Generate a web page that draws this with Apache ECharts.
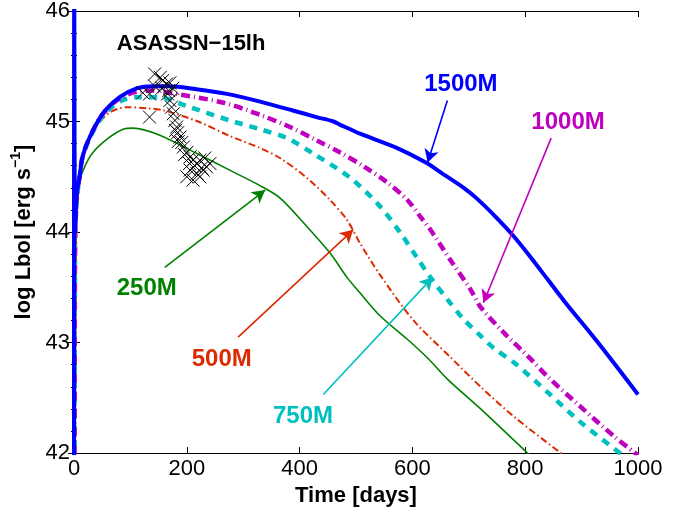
<!DOCTYPE html>
<html>
<head>
<meta charset="utf-8">
<script src="https://cdn.jsdelivr.net/npm/echarts@6/dist/echarts.min.js"></script>
<style>
html,body{margin:0;padding:0;background:#fff;}
#chart{width:691px;height:512px;}
</style>
</head>
<body>
<div id="chart"></div>
<script>
// ---- data (time [days], log Lbol) ----
const curve1500 = [[0,41],[0.3,47],[2,44.0],[5,44.35],[10,44.5],[15,44.68],[28,44.86],[51,45.07],[81,45.22],[111,45.30],[140,45.32],[170,45.32],[220,45.29],[271,45.25],[330,45.18],[388,45.10],[430,45.04],[460,45.0],[472,44.97],[490,44.93],[507,44.89],[573,44.76],[627,44.62],[650,44.54],[691,44.40],[715,44.30],[751,44.12],[780,43.96],[810,43.77],[840,43.57],[870,43.37],[929,43.0],[1000,42.53]];
const curve1000 = [[1,41.5],[2,44.0],[5,44.35],[10,44.5],[15,44.68],[28,44.86],[51,45.07],[81,45.21],[111,45.27],[140,45.28],[170,45.26],[265,45.17],[330,45.06],[383,44.95],[430,44.83],[472,44.72],[515,44.59],[555,44.45],[591,44.29],[614,44.14],[632,44.02],[667,43.75],[703,43.48],[721,43.32],[762,43.09],[810,42.85],[840,42.69],[898,42.42],[958,42.15],[1000,41.98]];
const curve750 = [[1,41.5],[2,44.0],[5,44.3],[10,44.5],[15,44.67],[28,44.85],[51,45.05],[81,45.18],[111,45.22],[150,45.22],[200,45.14],[276,45.01],[330,44.93],[378,44.85],[424,44.71],[490,44.49],[543,44.23],[579,43.99],[608,43.77],[632,43.59],[662,43.39],[691,43.21],[721,43.06],[744,42.95],[780,42.82],[840,42.55],[898,42.28],[958,42.04],[975,41.97]];
const curve500 = [[1,41.5],[3,43.8],[6,44.2],[10,44.45],[20,44.75],[40,44.96],[63,45.08],[93,45.13],[130,45.12],[160,45.10],[220,45.0],[276,44.87],[330,44.76],[365,44.67],[413,44.49],[454,44.29],[484,44.11],[507,43.90],[543,43.61],[602,43.2],[667,42.87],[721,42.60],[780,42.33],[858,42.02],[870,41.97]];
const curve250 = [[2,41.5],[4,44.1],[7,44.35],[10,44.47],[28,44.68],[51,44.81],[87,44.93],[105,44.94],[150,44.88],[218,44.71],[276,44.56],[330,44.42],[365,44.31],[413,44.05],[454,43.81],[484,43.59],[507,43.45],[543,43.24],[591,43.03],[627,42.86],[662,42.67],[721,42.40],[804,42.0],[820,41.92]];
const observed = [[143,45.43],[153,45.40],[134,45.04],[122,45.26],[134,45.25],[143,45.32],[157,45.37],[164,45.34],[170,45.35],[156,45.30],[166,45.25],[170,45.19],[173,45.13],[176,45.07],[179,45.01],[182,44.95],[184,44.90],[188,44.86],[191,44.81],[194,44.77],[200,44.72],[206,44.68],[211,44.65],[218,44.62],[223,44.65],[232,44.67],[206,44.56],[218,44.53],[229,44.56],[200,44.50],[211,44.47],[223,44.50],[235,44.59],[241,44.62],[175,45.30],[168,45.28],[180,44.92],[185,44.82],[196,44.70],[214,44.60],[226,44.58],[205,44.62]];
const xTicks = [0,200,400,600,800,1000];
const yTicks = [42,43,44,45,46];
const title = 'ASASSN\u221215lh';

// annotations: label, label position, arrow from -> to (data coords)
const annotations = [
  {name:'1500M', color:'#0000ff', at:[686,45.34], from:[662,45.19], to:[627,44.63]},
  {name:'1000M', color:'#bf00bf', at:[876,44.99], from:[846,44.85], to:[726,43.36]},
  {name:'750M',  color:'#00bfbf', at:[406,42.33], from:[442,42.53], to:[636,43.59]},
  {name:'500M',  color:'#dd2a00', at:[262,42.85], from:[291,43.05], to:[495,44.02]},
  {name:'250M',  color:'#008000', at:[129,43.49], from:[161,43.68], to:[339,44.38]}
];

const FONT = 'Liberation Sans, Arial, Helvetica, sans-serif';
const chart = echarts.init(document.getElementById('chart'), null, {renderer:'canvas'});

function arrowLine(a){
  return {
    silent:true, animation:false,
    symbol:['none','arrow'], symbolSize:[11,13],
    label:{show:false},
    lineStyle:{color:a.color, width:1.6, type:'solid', opacity:1},
    itemStyle:{color:a.color, opacity:1},
    data:[[{coord:a.from},{coord:a.to}]]
  };
}
function findAnn(n){ return annotations.find(a=>a.name===n); }

const curveSeries = [
  {name:'250M', data:curve250, color:'#008000', width:1.6, type:'solid'},
  {name:'500M', data:curve500, color:'#dd2a00', width:2, type:[7,3,1.5,3]},
  {name:'750M', data:curve750, color:'#00bfbf', width:4.5, type:[8,7]},
  {name:'1000M', data:curve1000, color:'#bf00bf', width:4.5, type:[9,4,1,4]},
  {name:'1500M', data:curve1500, color:'#0000ff', width:4, type:'solid'}
].map(s=>({
  type:'line', name:s.name, data:s.data, showSymbol:false, symbol:'none',
  smooth:0.3,
  clip:true, animation:false, silent:true,
  lineStyle:{color:s.color, width:s.width, type:s.type, cap:'butt', join:'round'},
  markLine: arrowLine(findAnn(s.name))
}));

const labelSeries = {
  type:'scatter', symbolSize:0, silent:true, animation:false, z:10,
  itemStyle:{opacity:1},
  data: annotations.map(a=>({name:a.name, value:a.at,
    label:{show:true, position:'inside', formatter:a.name, color:a.color, opacity:1,
      fontSize:24, fontWeight:'bold', fontFamily:FONT}}))
    .concat([{name:title, value:[76,45.70],
      label:{show:true, position:'right', distance:0, formatter:title, color:'#000', opacity:1,
        fontSize:22, fontWeight:'bold', fontFamily:FONT}}])
};

const obsSeries = {
  type:'scatter', data:observed, silent:true, animation:false, z:5,
  symbol:'path://M0,0L10,10M10,0L0,10', symbolSize:13,
  itemStyle:{color:'rgba(0,0,0,0)', borderColor:'#000', borderWidth:1, opacity:1}
};

const axisCommon = {
  axisLine:{show:true, lineStyle:{color:'#000', width:1}},
  axisTick:{show:true, inside:true, length:6, lineStyle:{color:'#000', width:1}},
  splitLine:{show:false}
};

const option = {
  backgroundColor:'#fff',
  animation:false,
  grid:{left:74, right:53, top:10, bottom:58, containLabel:false},
  xAxis:[
    Object.assign({type:'value', position:'bottom', min:0, max:1000, interval:200,
      name:'Time [days]', nameLocation:'middle', nameGap:31,
      nameTextStyle:{fontSize:22, fontWeight:'bold', color:'#000', fontFamily:FONT},
      axisLabel:{show:true, fontSize:22, color:'#000', margin:5, fontFamily:FONT,
        formatter:v=> xTicks.includes(v) ? String(v) : ''}}, axisCommon),
    Object.assign({type:'value', position:'top', min:0, max:1000, interval:200,
      axisLabel:{show:false}}, axisCommon)
  ],
  yAxis:[
    Object.assign({type:'value', position:'left', min:42, max:46, interval:1,
      name:'{b|log Lbol [erg s}{s|\u22121}{b|]}', nameLocation:'middle', nameGap:36, nameRotate:90,
      nameTextStyle:{color:'#000', fontFamily:FONT,
        rich:{b:{fontSize:22, fontWeight:'bold', color:'#000', fontFamily:FONT, lineHeight:28, verticalAlign:'middle'},
              s:{fontSize:14, fontWeight:'bold', color:'#000', fontFamily:FONT, lineHeight:28, verticalAlign:'top'}}},
      axisLabel:{show:true, fontSize:22, color:'#000', margin:4, fontFamily:FONT,
        formatter:v=> yTicks.includes(v) ? String(v) : ''},
      minorTick:{show:true, splitNumber:5, length:3, lineStyle:{color:'#000', width:1}}}, axisCommon),
    Object.assign({type:'value', position:'right', min:42, max:46, interval:1,
      axisLabel:{show:false},
      minorTick:{show:true, splitNumber:5, length:3, lineStyle:{color:'#000', width:1}}}, axisCommon)
  ],
  series: curveSeries.concat([obsSeries, labelSeries])
};
chart.setOption(option);
</script>
</body>
</html>
